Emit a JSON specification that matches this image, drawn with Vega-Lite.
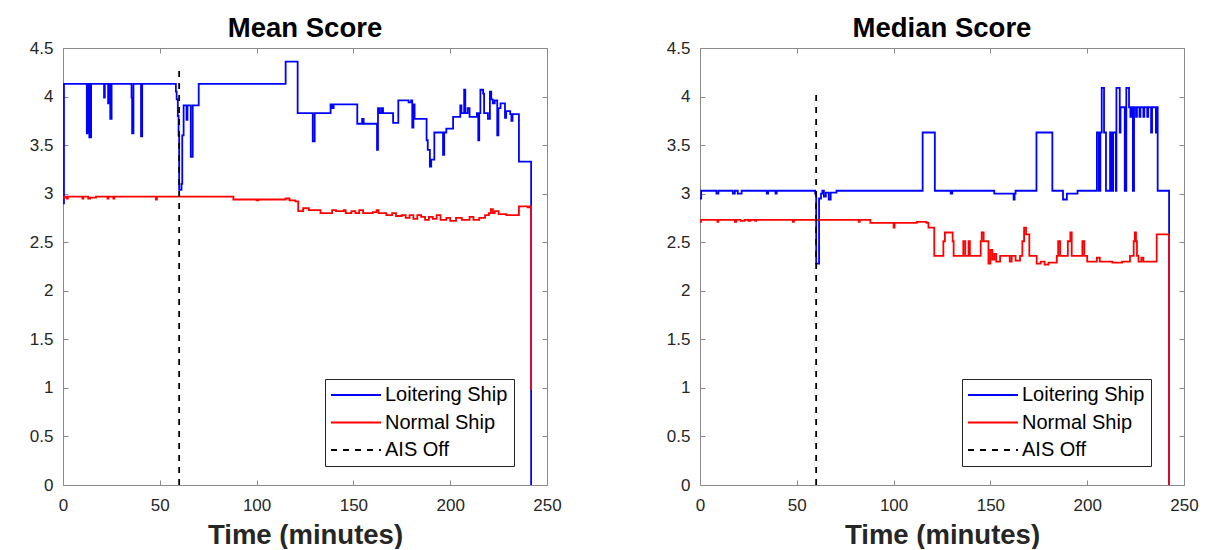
{
  "$schema": "https://vega.github.io/schema/vega-lite/v6.json",
  "padding": {"left": 29, "top": 14, "right": 5, "bottom": 0},
  "background": "white",
  "datasets": {
    "mean": [
      {"t": 0, "v": 2.9, "series": "Loitering Ship"}, {"t": 0.5, "v": 4.13, "series": "Loitering Ship"},
      {"t": 12.3, "v": 3.62, "series": "Loitering Ship"}, {"t": 12.8, "v": 4.13, "series": "Loitering Ship"},
      {"t": 13.6, "v": 3.58, "series": "Loitering Ship"}, {"t": 14.5, "v": 4.13, "series": "Loitering Ship"},
      {"t": 21.2, "v": 3.99, "series": "Loitering Ship"}, {"t": 21.6, "v": 4.13, "series": "Loitering Ship"},
      {"t": 23.3, "v": 3.93, "series": "Loitering Ship"}, {"t": 23.8, "v": 4.13, "series": "Loitering Ship"},
      {"t": 24.4, "v": 3.77, "series": "Loitering Ship"}, {"t": 25.1, "v": 4.13, "series": "Loitering Ship"},
      {"t": 35.4, "v": 3.99, "series": "Loitering Ship"}, {"t": 35.7, "v": 3.62, "series": "Loitering Ship"},
      {"t": 36.4, "v": 4.13, "series": "Loitering Ship"}, {"t": 40.3, "v": 3.59, "series": "Loitering Ship"},
      {"t": 40.9, "v": 4.13, "series": "Loitering Ship"}, {"t": 58.3, "v": 4.05, "series": "Loitering Ship"},
      {"t": 58.7, "v": 3.97, "series": "Loitering Ship"}, {"t": 59.3, "v": 3.8, "series": "Loitering Ship"},
      {"t": 59.7, "v": 3.6, "series": "Loitering Ship"}, {"t": 60.0, "v": 3.04, "series": "Loitering Ship"},
      {"t": 61.2, "v": 3.1, "series": "Loitering Ship"}, {"t": 61.6, "v": 3.6, "series": "Loitering Ship"},
      {"t": 62.3, "v": 3.91, "series": "Loitering Ship"}, {"t": 63.8, "v": 3.76, "series": "Loitering Ship"},
      {"t": 64.3, "v": 3.91, "series": "Loitering Ship"}, {"t": 66.0, "v": 3.38, "series": "Loitering Ship"},
      {"t": 67.0, "v": 3.91, "series": "Loitering Ship"}, {"t": 70.1, "v": 4.13, "series": "Loitering Ship"},
      {"t": 115.0, "v": 4.36, "series": "Loitering Ship"}, {"t": 121.2, "v": 3.83, "series": "Loitering Ship"},
      {"t": 129.0, "v": 3.54, "series": "Loitering Ship"}, {"t": 130.0, "v": 3.83, "series": "Loitering Ship"},
      {"t": 138.2, "v": 3.92, "series": "Loitering Ship"}, {"t": 139.0, "v": 3.88, "series": "Loitering Ship"},
      {"t": 139.8, "v": 3.92, "series": "Loitering Ship"}, {"t": 152.0, "v": 3.72, "series": "Loitering Ship"},
      {"t": 154.5, "v": 3.77, "series": "Loitering Ship"}, {"t": 155.3, "v": 3.72, "series": "Loitering Ship"},
      {"t": 162.2, "v": 3.45, "series": "Loitering Ship"}, {"t": 162.7, "v": 3.88, "series": "Loitering Ship"},
      {"t": 163.5, "v": 3.83, "series": "Loitering Ship"}, {"t": 164.5, "v": 3.88, "series": "Loitering Ship"},
      {"t": 165.3, "v": 3.83, "series": "Loitering Ship"}, {"t": 170.5, "v": 3.73, "series": "Loitering Ship"},
      {"t": 173.2, "v": 3.96, "series": "Loitering Ship"}, {"t": 178.5, "v": 3.94, "series": "Loitering Ship"},
      {"t": 179.8, "v": 3.96, "series": "Loitering Ship"}, {"t": 180.4, "v": 3.68, "series": "Loitering Ship"},
      {"t": 181.0, "v": 3.92, "series": "Loitering Ship"}, {"t": 181.6, "v": 3.77, "series": "Loitering Ship"},
      {"t": 187.8, "v": 3.55, "series": "Loitering Ship"}, {"t": 188.4, "v": 3.45, "series": "Loitering Ship"},
      {"t": 189.5, "v": 3.28, "series": "Loitering Ship"}, {"t": 190.2, "v": 3.35, "series": "Loitering Ship"},
      {"t": 191.8, "v": 3.63, "series": "Loitering Ship"}, {"t": 196.3, "v": 3.4, "series": "Loitering Ship"},
      {"t": 196.9, "v": 3.63, "series": "Loitering Ship"}, {"t": 198.0, "v": 3.67, "series": "Loitering Ship"},
      {"t": 201.5, "v": 3.79, "series": "Loitering Ship"}, {"t": 205.2, "v": 3.91, "series": "Loitering Ship"},
      {"t": 205.8, "v": 3.83, "series": "Loitering Ship"}, {"t": 207.2, "v": 4.07, "series": "Loitering Ship"},
      {"t": 207.8, "v": 3.83, "series": "Loitering Ship"}, {"t": 209.0, "v": 3.88, "series": "Loitering Ship"},
      {"t": 210.0, "v": 3.79, "series": "Loitering Ship"}, {"t": 213.8, "v": 3.83, "series": "Loitering Ship"},
      {"t": 214.5, "v": 3.55, "series": "Loitering Ship"}, {"t": 215.0, "v": 3.83, "series": "Loitering Ship"},
      {"t": 215.6, "v": 4.07, "series": "Loitering Ship"}, {"t": 217.0, "v": 4.03, "series": "Loitering Ship"},
      {"t": 217.5, "v": 3.83, "series": "Loitering Ship"}, {"t": 219.5, "v": 3.77, "series": "Loitering Ship"},
      {"t": 220.5, "v": 4.05, "series": "Loitering Ship"}, {"t": 221.2, "v": 3.97, "series": "Loitering Ship"},
      {"t": 222.0, "v": 3.93, "series": "Loitering Ship"}, {"t": 223.0, "v": 3.96, "series": "Loitering Ship"},
      {"t": 224.3, "v": 3.6, "series": "Loitering Ship"}, {"t": 224.9, "v": 3.88, "series": "Loitering Ship"},
      {"t": 226.0, "v": 3.93, "series": "Loitering Ship"}, {"t": 228.3, "v": 3.78, "series": "Loitering Ship"},
      {"t": 228.9, "v": 3.85, "series": "Loitering Ship"}, {"t": 231.0, "v": 3.82, "series": "Loitering Ship"},
      {"t": 231.6, "v": 3.75, "series": "Loitering Ship"}, {"t": 232.2, "v": 3.82, "series": "Loitering Ship"},
      {"t": 235.5, "v": 3.33, "series": "Loitering Ship"}, {"t": 241.8, "v": 0, "series": "Loitering Ship"},

      {"t": 0, "v": 2.96, "series": "Normal Ship"}, {"t": 1, "v": 2.97, "series": "Normal Ship"},
      {"t": 2, "v": 2.95, "series": "Normal Ship"}, {"t": 2.5, "v": 2.97, "series": "Normal Ship"},
      {"t": 10, "v": 2.95, "series": "Normal Ship"}, {"t": 10.5, "v": 2.97, "series": "Normal Ship"},
      {"t": 13, "v": 2.95, "series": "Normal Ship"}, {"t": 14, "v": 2.96, "series": "Normal Ship"},
      {"t": 17, "v": 2.97, "series": "Normal Ship"}, {"t": 23, "v": 2.95, "series": "Normal Ship"},
      {"t": 23.5, "v": 2.97, "series": "Normal Ship"}, {"t": 26, "v": 2.95, "series": "Normal Ship"},
      {"t": 26.5, "v": 2.97, "series": "Normal Ship"}, {"t": 48, "v": 2.94, "series": "Normal Ship"},
      {"t": 48.5, "v": 2.97, "series": "Normal Ship"}, {"t": 88, "v": 2.94, "series": "Normal Ship"},
      {"t": 100, "v": 2.93, "series": "Normal Ship"}, {"t": 101, "v": 2.94, "series": "Normal Ship"},
      {"t": 115, "v": 2.95, "series": "Normal Ship"}, {"t": 117, "v": 2.93, "series": "Normal Ship"},
      {"t": 120, "v": 2.92, "series": "Normal Ship"}, {"t": 121.5, "v": 2.82, "series": "Normal Ship"},
      {"t": 124, "v": 2.85, "series": "Normal Ship"}, {"t": 127, "v": 2.83, "series": "Normal Ship"},
      {"t": 133, "v": 2.8, "series": "Normal Ship"}, {"t": 139, "v": 2.83, "series": "Normal Ship"},
      {"t": 141, "v": 2.82, "series": "Normal Ship"}, {"t": 145, "v": 2.83, "series": "Normal Ship"},
      {"t": 146, "v": 2.8, "series": "Normal Ship"}, {"t": 149, "v": 2.82, "series": "Normal Ship"},
      {"t": 151, "v": 2.8, "series": "Normal Ship"}, {"t": 153, "v": 2.83, "series": "Normal Ship"},
      {"t": 155, "v": 2.8, "series": "Normal Ship"}, {"t": 160, "v": 2.81, "series": "Normal Ship"},
      {"t": 162, "v": 2.83, "series": "Normal Ship"}, {"t": 163, "v": 2.8, "series": "Normal Ship"},
      {"t": 167, "v": 2.78, "series": "Normal Ship"}, {"t": 170, "v": 2.8, "series": "Normal Ship"},
      {"t": 172, "v": 2.77, "series": "Normal Ship"}, {"t": 175, "v": 2.78, "series": "Normal Ship"},
      {"t": 177, "v": 2.75, "series": "Normal Ship"}, {"t": 179, "v": 2.78, "series": "Normal Ship"},
      {"t": 181, "v": 2.74, "series": "Normal Ship"}, {"t": 183, "v": 2.78, "series": "Normal Ship"},
      {"t": 185, "v": 2.76, "series": "Normal Ship"}, {"t": 187, "v": 2.73, "series": "Normal Ship"},
      {"t": 189, "v": 2.76, "series": "Normal Ship"}, {"t": 191, "v": 2.74, "series": "Normal Ship"},
      {"t": 193, "v": 2.78, "series": "Normal Ship"}, {"t": 195, "v": 2.73, "series": "Normal Ship"},
      {"t": 198, "v": 2.75, "series": "Normal Ship"}, {"t": 200, "v": 2.72, "series": "Normal Ship"},
      {"t": 203, "v": 2.75, "series": "Normal Ship"}, {"t": 206, "v": 2.73, "series": "Normal Ship"},
      {"t": 210, "v": 2.76, "series": "Normal Ship"}, {"t": 212, "v": 2.73, "series": "Normal Ship"},
      {"t": 215, "v": 2.75, "series": "Normal Ship"}, {"t": 218, "v": 2.78, "series": "Normal Ship"},
      {"t": 220, "v": 2.8, "series": "Normal Ship"}, {"t": 221, "v": 2.84, "series": "Normal Ship"},
      {"t": 222, "v": 2.8, "series": "Normal Ship"}, {"t": 223, "v": 2.82, "series": "Normal Ship"},
      {"t": 225, "v": 2.79, "series": "Normal Ship"}, {"t": 229, "v": 2.78, "series": "Normal Ship"},
      {"t": 235.5, "v": 2.87, "series": "Normal Ship"}, {"t": 240, "v": 2.86, "series": "Normal Ship"},
      {"t": 241, "v": 2.87, "series": "Normal Ship"}, {"t": 241.8, "v": 0.98, "series": "Normal Ship"}
    ],
    "median": [
      {"t": 0, "v": 2.95, "series": "Loitering Ship"}, {"t": 0.6, "v": 3.03, "series": "Loitering Ship"},
      {"t": 8.5, "v": 3.0, "series": "Loitering Ship"}, {"t": 9.5, "v": 3.03, "series": "Loitering Ship"},
      {"t": 17, "v": 3.0, "series": "Loitering Ship"}, {"t": 18, "v": 3.03, "series": "Loitering Ship"},
      {"t": 19.5, "v": 3.0, "series": "Loitering Ship"}, {"t": 21.5, "v": 3.03, "series": "Loitering Ship"},
      {"t": 34.5, "v": 3.0, "series": "Loitering Ship"}, {"t": 35.2, "v": 3.03, "series": "Loitering Ship"},
      {"t": 39, "v": 3.0, "series": "Loitering Ship"}, {"t": 39.6, "v": 3.03, "series": "Loitering Ship"},
      {"t": 59.5, "v": 3.0, "series": "Loitering Ship"}, {"t": 60, "v": 2.28, "series": "Loitering Ship"},
      {"t": 61.5, "v": 2.95, "series": "Loitering Ship"}, {"t": 62.5, "v": 3.0, "series": "Loitering Ship"},
      {"t": 63.2, "v": 3.03, "series": "Loitering Ship"}, {"t": 64, "v": 2.97, "series": "Loitering Ship"},
      {"t": 65, "v": 3.01, "series": "Loitering Ship"}, {"t": 66.5, "v": 2.94, "series": "Loitering Ship"},
      {"t": 67.5, "v": 3.01, "series": "Loitering Ship"}, {"t": 70.5, "v": 3.03, "series": "Loitering Ship"},
      {"t": 115, "v": 3.63, "series": "Loitering Ship"}, {"t": 121.3, "v": 3.03, "series": "Loitering Ship"},
      {"t": 129.5, "v": 3.0, "series": "Loitering Ship"}, {"t": 130.3, "v": 3.03, "series": "Loitering Ship"},
      {"t": 152, "v": 3.0, "series": "Loitering Ship"}, {"t": 162, "v": 2.94, "series": "Loitering Ship"},
      {"t": 162.5, "v": 3.0, "series": "Loitering Ship"}, {"t": 163, "v": 3.03, "series": "Loitering Ship"},
      {"t": 173.8, "v": 3.63, "series": "Loitering Ship"}, {"t": 182, "v": 3.03, "series": "Loitering Ship"},
      {"t": 187.5, "v": 2.94, "series": "Loitering Ship"}, {"t": 189.5, "v": 3.0, "series": "Loitering Ship"},
      {"t": 195, "v": 3.03, "series": "Loitering Ship"}, {"t": 205, "v": 3.63, "series": "Loitering Ship"},
      {"t": 206, "v": 3.03, "series": "Loitering Ship"}, {"t": 206.8, "v": 3.63, "series": "Loitering Ship"},
      {"t": 207.5, "v": 4.09, "series": "Loitering Ship"}, {"t": 208.7, "v": 3.63, "series": "Loitering Ship"},
      {"t": 209.7, "v": 3.03, "series": "Loitering Ship"}, {"t": 211.8, "v": 3.63, "series": "Loitering Ship"},
      {"t": 212.6, "v": 3.03, "series": "Loitering Ship"}, {"t": 213.4, "v": 3.63, "series": "Loitering Ship"},
      {"t": 214.8, "v": 3.03, "series": "Loitering Ship"}, {"t": 215.1, "v": 4.09, "series": "Loitering Ship"},
      {"t": 216.8, "v": 3.63, "series": "Loitering Ship"}, {"t": 217.2, "v": 3.89, "series": "Loitering Ship"},
      {"t": 219.4, "v": 3.03, "series": "Loitering Ship"}, {"t": 220.2, "v": 4.09, "series": "Loitering Ship"},
      {"t": 221.6, "v": 3.89, "series": "Loitering Ship"}, {"t": 222.3, "v": 3.79, "series": "Loitering Ship"},
      {"t": 222.8, "v": 3.89, "series": "Loitering Ship"}, {"t": 223.6, "v": 3.03, "series": "Loitering Ship"},
      {"t": 224.2, "v": 3.89, "series": "Loitering Ship"}, {"t": 225.2, "v": 3.79, "series": "Loitering Ship"},
      {"t": 225.7, "v": 3.89, "series": "Loitering Ship"}, {"t": 227, "v": 3.79, "series": "Loitering Ship"},
      {"t": 227.5, "v": 3.89, "series": "Loitering Ship"}, {"t": 229, "v": 3.79, "series": "Loitering Ship"},
      {"t": 229.5, "v": 3.89, "series": "Loitering Ship"}, {"t": 231, "v": 3.79, "series": "Loitering Ship"},
      {"t": 231.5, "v": 3.89, "series": "Loitering Ship"}, {"t": 233, "v": 3.63, "series": "Loitering Ship"},
      {"t": 233.5, "v": 3.89, "series": "Loitering Ship"}, {"t": 235.5, "v": 3.63, "series": "Loitering Ship"},
      {"t": 236, "v": 3.89, "series": "Loitering Ship"}, {"t": 236.4, "v": 3.03, "series": "Loitering Ship"},
      {"t": 242.3, "v": 0, "series": "Loitering Ship"},

      {"t": 0, "v": 2.71, "series": "Normal Ship"}, {"t": 0.5, "v": 2.73, "series": "Normal Ship"},
      {"t": 9, "v": 2.71, "series": "Normal Ship"}, {"t": 9.5, "v": 2.73, "series": "Normal Ship"},
      {"t": 18, "v": 2.71, "series": "Normal Ship"}, {"t": 18.7, "v": 2.73, "series": "Normal Ship"},
      {"t": 21, "v": 2.72, "series": "Normal Ship"}, {"t": 23, "v": 2.73, "series": "Normal Ship"},
      {"t": 25, "v": 2.72, "series": "Normal Ship"}, {"t": 26, "v": 2.73, "series": "Normal Ship"},
      {"t": 28.5, "v": 2.72, "series": "Normal Ship"}, {"t": 29, "v": 2.73, "series": "Normal Ship"},
      {"t": 48, "v": 2.71, "series": "Normal Ship"}, {"t": 48.5, "v": 2.73, "series": "Normal Ship"},
      {"t": 82, "v": 2.71, "series": "Normal Ship"}, {"t": 82.5, "v": 2.73, "series": "Normal Ship"},
      {"t": 88, "v": 2.7, "series": "Normal Ship"}, {"t": 100, "v": 2.65, "series": "Normal Ship"},
      {"t": 100.5, "v": 2.7, "series": "Normal Ship"}, {"t": 112, "v": 2.71, "series": "Normal Ship"},
      {"t": 117, "v": 2.7, "series": "Normal Ship"}, {"t": 118, "v": 2.65, "series": "Normal Ship"},
      {"t": 121, "v": 2.36, "series": "Normal Ship"}, {"t": 125.7, "v": 2.51, "series": "Normal Ship"},
      {"t": 126.5, "v": 2.6, "series": "Normal Ship"}, {"t": 130.5, "v": 2.51, "series": "Normal Ship"},
      {"t": 131, "v": 2.36, "series": "Normal Ship"}, {"t": 136, "v": 2.51, "series": "Normal Ship"},
      {"t": 137, "v": 2.36, "series": "Normal Ship"}, {"t": 138.7, "v": 2.51, "series": "Normal Ship"},
      {"t": 139.4, "v": 2.36, "series": "Normal Ship"}, {"t": 145, "v": 2.51, "series": "Normal Ship"},
      {"t": 145.5, "v": 2.6, "series": "Normal Ship"}, {"t": 146.5, "v": 2.51, "series": "Normal Ship"},
      {"t": 149, "v": 2.28, "series": "Normal Ship"}, {"t": 150, "v": 2.42, "series": "Normal Ship"},
      {"t": 151, "v": 2.32, "series": "Normal Ship"}, {"t": 152, "v": 2.38, "series": "Normal Ship"},
      {"t": 153, "v": 2.3, "series": "Normal Ship"}, {"t": 155, "v": 2.36, "series": "Normal Ship"},
      {"t": 160, "v": 2.3, "series": "Normal Ship"}, {"t": 161, "v": 2.36, "series": "Normal Ship"},
      {"t": 163, "v": 2.31, "series": "Normal Ship"}, {"t": 165.3, "v": 2.36, "series": "Normal Ship"},
      {"t": 166.5, "v": 2.51, "series": "Normal Ship"}, {"t": 167.4, "v": 2.65, "series": "Normal Ship"},
      {"t": 168.4, "v": 2.58, "series": "Normal Ship"}, {"t": 170.1, "v": 2.36, "series": "Normal Ship"},
      {"t": 173.9, "v": 2.28, "series": "Normal Ship"}, {"t": 176, "v": 2.3, "series": "Normal Ship"},
      {"t": 178, "v": 2.27, "series": "Normal Ship"}, {"t": 180, "v": 2.29, "series": "Normal Ship"},
      {"t": 184.3, "v": 2.36, "series": "Normal Ship"}, {"t": 185, "v": 2.51, "series": "Normal Ship"},
      {"t": 186, "v": 2.36, "series": "Normal Ship"}, {"t": 190, "v": 2.51, "series": "Normal Ship"},
      {"t": 191.3, "v": 2.6, "series": "Normal Ship"}, {"t": 192, "v": 2.36, "series": "Normal Ship"},
      {"t": 197.5, "v": 2.51, "series": "Normal Ship"}, {"t": 198.5, "v": 2.36, "series": "Normal Ship"},
      {"t": 200, "v": 2.3, "series": "Normal Ship"}, {"t": 205, "v": 2.34, "series": "Normal Ship"},
      {"t": 206.5, "v": 2.3, "series": "Normal Ship"}, {"t": 213, "v": 2.29, "series": "Normal Ship"},
      {"t": 218, "v": 2.3, "series": "Normal Ship"}, {"t": 222.1, "v": 2.36, "series": "Normal Ship"},
      {"t": 224, "v": 2.51, "series": "Normal Ship"}, {"t": 224.6, "v": 2.6, "series": "Normal Ship"},
      {"t": 225.2, "v": 2.51, "series": "Normal Ship"}, {"t": 225.7, "v": 2.36, "series": "Normal Ship"},
      {"t": 226.5, "v": 2.3, "series": "Normal Ship"}, {"t": 228, "v": 2.34, "series": "Normal Ship"},
      {"t": 229, "v": 2.3, "series": "Normal Ship"}, {"t": 235.9, "v": 2.58, "series": "Normal Ship"},
      {"t": 242.3, "v": 0, "series": "Normal Ship"}
    ],
    "aisMean": [{"t": 60, "y0": 0, "y1": 4.32, "series": "AIS Off"}],
    "aisMedian": [{"t": 60, "y0": 0, "y1": 4.05, "series": "AIS Off"}]
  },
  "hconcat": [
    {
      "width": 484,
      "height": 437,
      "title": {"text": "Mean Score"},
      "layer": [
        {
          "data": {"name": "mean"},
          "mark": {"type": "line", "interpolate": "step-after", "strokeWidth": 1.8},
          "encoding": {
            "x": {"field": "t", "type": "quantitative", "scale": {"domain": [0, 250], "nice": false},
                  "axis": {"orient": "bottom", "values": [0, 50, 100, 150, 200, 250], "title": "Time (minutes)"}},
            "y": {"field": "v", "type": "quantitative", "scale": {"domain": [0, 4.5], "nice": false},
                  "axis": {"orient": "left", "values": [0, 0.5, 1, 1.5, 2, 2.5, 3, 3.5, 4, 4.5], "title": null}},
            "color": {"field": "series", "type": "nominal",
                      "scale": {"domain": ["Loitering Ship", "Normal Ship", "AIS Off"], "range": ["#0000ff", "#ff0000", "#000000"]}},
            "strokeDash": {"field": "series", "type": "nominal",
                      "scale": {"domain": ["Loitering Ship", "Normal Ship", "AIS Off"], "range": [[1, 0], [1, 0], [6, 6]]}}
          }
        },
        {
          "data": {"name": "aisMean"},
          "mark": {"type": "rule", "strokeWidth": 1.8},
          "encoding": {
            "x": {"field": "t", "type": "quantitative",
                  "axis": {"orient": "top", "values": [0, 50, 100, 150, 200, 250], "labels": false, "title": null}},
            "y": {"field": "y0", "type": "quantitative",
                  "axis": {"orient": "right", "values": [0, 0.5, 1, 1.5, 2, 2.5, 3, 3.5, 4, 4.5], "labels": false, "title": null}},
            "y2": {"field": "y1"},
            "color": {"field": "series", "type": "nominal"},
            "strokeDash": {"field": "series", "type": "nominal"}
          }
        }
      ]
    },
    {
      "width": 484,
      "height": 437,
      "title": {"text": "Median Score"},
      "layer": [
        {
          "data": {"name": "median"},
          "mark": {"type": "line", "interpolate": "step-after", "strokeWidth": 1.8},
          "encoding": {
            "x": {"field": "t", "type": "quantitative", "scale": {"domain": [0, 250], "nice": false},
                  "axis": {"orient": "bottom", "values": [0, 50, 100, 150, 200, 250], "title": "Time (minutes)"}},
            "y": {"field": "v", "type": "quantitative", "scale": {"domain": [0, 4.5], "nice": false},
                  "axis": {"orient": "left", "values": [0, 0.5, 1, 1.5, 2, 2.5, 3, 3.5, 4, 4.5], "title": null}},
            "color": {"field": "series", "type": "nominal",
                      "scale": {"domain": ["Loitering Ship", "Normal Ship", "AIS Off"], "range": ["#0000ff", "#ff0000", "#000000"]}},
            "strokeDash": {"field": "series", "type": "nominal",
                      "scale": {"domain": ["Loitering Ship", "Normal Ship", "AIS Off"], "range": [[1, 0], [1, 0], [6, 6]]}}
          }
        },
        {
          "data": {"name": "aisMedian"},
          "mark": {"type": "rule", "strokeWidth": 1.8},
          "encoding": {
            "x": {"field": "t", "type": "quantitative",
                  "axis": {"orient": "top", "values": [0, 50, 100, 150, 200, 250], "labels": false, "title": null}},
            "y": {"field": "y0", "type": "quantitative",
                  "axis": {"orient": "right", "values": [0, 0.5, 1, 1.5, 2, 2.5, 3, 3.5, 4, 4.5], "labels": false, "title": null}},
            "y2": {"field": "y1"},
            "color": {"field": "series", "type": "nominal"},
            "strokeDash": {"field": "series", "type": "nominal"}
          }
        }
      ]
    }
  ],
  "spacing": 153,
  "bounds": "flush",
  "resolve": {"legend": {"color": "independent", "strokeDash": "independent"}},
  "config": {
    "font": "Liberation Sans",
    "view": {"stroke": null},
    "title": {"fontSize": 27.5, "fontWeight": "bold", "color": "#000000", "offset": -3, "anchor": "middle", "font": "Liberation Sans"},
    "axis": {
      "grid": false,
      "domainColor": "#8a8a8a",
      "domainWidth": 1,
      "tickColor": "#8a8a8a",
      "tickWidth": 1,
      "tickSize": -5,
      "labelPadding": 15,
      "labelFlush": false,
      "labelFontSize": 17,
      "labelColor": "#262626",
      "labelFont": "Liberation Sans",
      "format": "~r",
      "titleFontSize": 27.5,
      "titleFontWeight": "bold",
      "titleColor": "#262626",
      "titleFont": "Liberation Sans",
      "titlePadding": 8
    },
    "axisX": {"labelPadding": 17},
    "legend": {
      "orient": "none",
      "legendX": 262,
      "legendY": 331,
      "title": null,
      "strokeColor": "#262626",
      "fillColor": "#ffffff",
      "padding": 6,
      "labelFontSize": 20,
      "labelFont": "Liberation Sans",
      "labelColor": "#000000",
      "labelOffset": 19,
      "symbolType": "M-5,0H5",
      "symbolSize": 100,
      "symbolOffset": 15,
      "symbolStrokeWidth": 2,
      "rowPadding": 7.5
    }
  }
}
